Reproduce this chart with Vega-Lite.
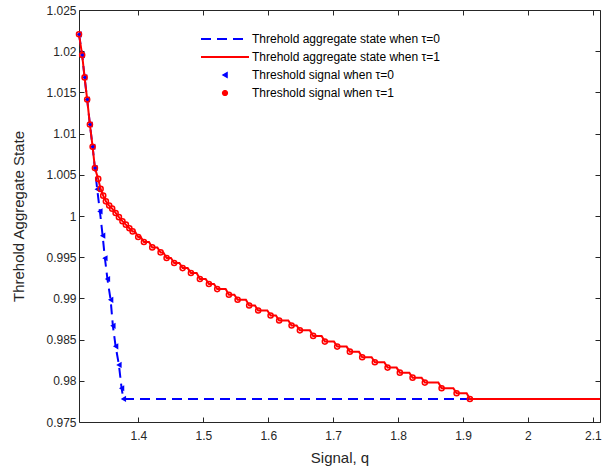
{
  "$schema": "https://vega.github.io/schema/vega-lite/v6.json",
  "autosize": "none",
  "padding": {"left": 79, "top": 10, "right": 3, "bottom": 51},
  "width": 521,
  "height": 412,
  "background": "white",
  "config": {
    "view": {"stroke": null},
    "font": "Liberation Sans",
    "axis": {
      "grid": false,
      "domainColor": "#262626",
      "domainWidth": 1,
      "tickColor": "#262626",
      "tickSize": -5,
      "labelColor": "#262626",
      "labelFont": "Liberation Sans",
      "labelFontSize": 12,
      "titleColor": "#262626",
      "titleFont": "Liberation Sans",
      "titleFontSize": 15,
      "titleFontWeight": "normal"
    }
  },
  "datasets": {
    "blueLine": [
      {"q": 1.3085, "v": 1.02205}, {"q": 1.3134, "v": 1.01953}, {"q": 1.3171, "v": 1.01682},
      {"q": 1.3211, "v": 1.01414}, {"q": 1.3253, "v": 1.01110}, {"q": 1.3295, "v": 1.00839},
      {"q": 1.3330, "v": 1.00582}, {"q": 1.3365, "v": 1.00326}, {"q": 1.3407, "v": 1.00056},
      {"q": 1.3449, "v": 0.99761}, {"q": 1.3484, "v": 0.99487}, {"q": 1.3523, "v": 0.99235},
      {"q": 1.3572, "v": 0.98983}, {"q": 1.3607, "v": 0.98667}, {"q": 1.3649, "v": 0.98418},
      {"q": 1.3700, "v": 0.98193}, {"q": 1.3741, "v": 0.97910}, {"q": 1.3769, "v": 0.97780},
      {"q": 2.111, "v": 0.97780}
    ],
    "blueMarks": [
      {"q": 1.3085, "v": 1.02205}, {"q": 1.3134, "v": 1.01953}, {"q": 1.3171, "v": 1.01682},
      {"q": 1.3211, "v": 1.01414}, {"q": 1.3253, "v": 1.01110}, {"q": 1.3295, "v": 1.00839},
      {"q": 1.3330, "v": 1.00582}, {"q": 1.3365, "v": 1.00326}, {"q": 1.3407, "v": 1.00056},
      {"q": 1.3449, "v": 0.99761}, {"q": 1.3484, "v": 0.99487}, {"q": 1.3523, "v": 0.99235},
      {"q": 1.3572, "v": 0.98983}, {"q": 1.3607, "v": 0.98667}, {"q": 1.3649, "v": 0.98418},
      {"q": 1.3700, "v": 0.98193}, {"q": 1.3741, "v": 0.97910}, {"q": 1.3769, "v": 0.97780}
    ],
    "redLine": [
      {"q": 1.3085, "v": 1.02205}, {"q": 1.3134, "v": 1.01953}, {"q": 1.3171, "v": 1.01682},
      {"q": 1.3211, "v": 1.01414}, {"q": 1.3253, "v": 1.01110}, {"q": 1.3295, "v": 1.00839},
      {"q": 1.3330, "v": 1.00582}, {"q": 1.3381, "v": 1.00450}, {"q": 1.3418, "v": 1.00329},
      {"q": 1.3458, "v": 1.00247}, {"q": 1.3499, "v": 1.00178}, {"q": 1.3550, "v": 1.00126},
      {"q": 1.3596, "v": 1.00089}, {"q": 1.3649, "v": 1.00037}, {"q": 1.3700, "v": 0.99986},
      {"q": 1.3754, "v": 0.99937}, {"q": 1.3807, "v": 0.99895}, {"q": 1.3861, "v": 0.99852},
      {"q": 1.3911, "v": 0.99813}, {"q": 1.3947, "v": 0.99813},
      {"q": 1.3997, "v": 0.99745}, {"q": 1.4035, "v": 0.99745},
      {"q": 1.4085, "v": 0.99684}, {"q": 1.4163, "v": 0.99684},
      {"q": 1.4213, "v": 0.99619}, {"q": 1.4292, "v": 0.99619},
      {"q": 1.4342, "v": 0.99558}, {"q": 1.4384, "v": 0.99558},
      {"q": 1.4434, "v": 0.99490}, {"q": 1.4501, "v": 0.99490},
      {"q": 1.4551, "v": 0.99429}, {"q": 1.4631, "v": 0.99429},
      {"q": 1.4681, "v": 0.99368}, {"q": 1.4759, "v": 0.99368},
      {"q": 1.4809, "v": 0.99308}, {"q": 1.4897, "v": 0.99308},
      {"q": 1.4947, "v": 0.99235}, {"q": 1.5036, "v": 0.99235},
      {"q": 1.5086, "v": 0.99174}, {"q": 1.5164, "v": 0.99174},
      {"q": 1.5214, "v": 0.99113}, {"q": 1.5344, "v": 0.99113},
      {"q": 1.5394, "v": 0.99044}, {"q": 1.5478, "v": 0.99044},
      {"q": 1.5528, "v": 0.98983}, {"q": 1.5656, "v": 0.98983},
      {"q": 1.5706, "v": 0.98914}, {"q": 1.5795, "v": 0.98914},
      {"q": 1.5845, "v": 0.98853}, {"q": 1.5986, "v": 0.98853},
      {"q": 1.6036, "v": 0.98792}, {"q": 1.6118, "v": 0.98792},
      {"q": 1.6168, "v": 0.98731}, {"q": 1.6309, "v": 0.98731},
      {"q": 1.6359, "v": 0.98671}, {"q": 1.6437, "v": 0.98671},
      {"q": 1.6487, "v": 0.98612}, {"q": 1.6642, "v": 0.98612},
      {"q": 1.6692, "v": 0.98545}, {"q": 1.6822, "v": 0.98545},
      {"q": 1.6872, "v": 0.98476}, {"q": 1.7012, "v": 0.98476},
      {"q": 1.7062, "v": 0.98415}, {"q": 1.7207, "v": 0.98415},
      {"q": 1.7257, "v": 0.98354}, {"q": 1.7397, "v": 0.98354},
      {"q": 1.7447, "v": 0.98286}, {"q": 1.7592, "v": 0.98286},
      {"q": 1.7642, "v": 0.98226}, {"q": 1.7788, "v": 0.98226},
      {"q": 1.7838, "v": 0.98160}, {"q": 1.7977, "v": 0.98160},
      {"q": 1.8027, "v": 0.98099}, {"q": 1.8173, "v": 0.98099},
      {"q": 1.8223, "v": 0.98038}, {"q": 1.8362, "v": 0.98038},
      {"q": 1.8412, "v": 0.97978}, {"q": 1.8620, "v": 0.97978},
      {"q": 1.8670, "v": 0.97910}, {"q": 1.8851, "v": 0.97910},
      {"q": 1.8901, "v": 0.97849}, {"q": 1.9056, "v": 0.97849},
      {"q": 1.9106, "v": 0.97780}, {"q": 2.111, "v": 0.97780}
    ],
    "redMarks": [
      {"q": 1.3085, "v": 1.02205}, {"q": 1.3134, "v": 1.01953}, {"q": 1.3171, "v": 1.01682},
      {"q": 1.3211, "v": 1.01414}, {"q": 1.3253, "v": 1.01110}, {"q": 1.3295, "v": 1.00839},
      {"q": 1.3330, "v": 1.00582}, {"q": 1.3381, "v": 1.00450}, {"q": 1.3418, "v": 1.00329},
      {"q": 1.3458, "v": 1.00247}, {"q": 1.3499, "v": 1.00178}, {"q": 1.3550, "v": 1.00126},
      {"q": 1.3596, "v": 1.00089}, {"q": 1.3649, "v": 1.00037}, {"q": 1.3700, "v": 0.99986},
      {"q": 1.3754, "v": 0.99937}, {"q": 1.3807, "v": 0.99895}, {"q": 1.3861, "v": 0.99852},
      {"q": 1.3911, "v": 0.99813}, {"q": 1.3997, "v": 0.99745}, {"q": 1.4085, "v": 0.99684},
      {"q": 1.4213, "v": 0.99619}, {"q": 1.4342, "v": 0.99558}, {"q": 1.4434, "v": 0.99490},
      {"q": 1.4551, "v": 0.99429}, {"q": 1.4681, "v": 0.99368}, {"q": 1.4809, "v": 0.99308},
      {"q": 1.4947, "v": 0.99235}, {"q": 1.5086, "v": 0.99174}, {"q": 1.5214, "v": 0.99113},
      {"q": 1.5394, "v": 0.99044}, {"q": 1.5528, "v": 0.98983}, {"q": 1.5706, "v": 0.98914},
      {"q": 1.5845, "v": 0.98853}, {"q": 1.6036, "v": 0.98792}, {"q": 1.6168, "v": 0.98731},
      {"q": 1.6359, "v": 0.98671}, {"q": 1.6487, "v": 0.98612}, {"q": 1.6692, "v": 0.98545},
      {"q": 1.6872, "v": 0.98476}, {"q": 1.7062, "v": 0.98415}, {"q": 1.7257, "v": 0.98354},
      {"q": 1.7447, "v": 0.98286}, {"q": 1.7642, "v": 0.98226}, {"q": 1.7838, "v": 0.98160},
      {"q": 1.8027, "v": 0.98099}, {"q": 1.8223, "v": 0.98038}, {"q": 1.8412, "v": 0.97978},
      {"q": 1.8670, "v": 0.97910}, {"q": 1.8901, "v": 0.97849}, {"q": 1.9106, "v": 0.97780}
    ]
  },
  "resolve": {"axis": {"x": "independent", "y": "independent"}},
  "layer": [
    {
      "data": {"name": "blueLine"},
      "mark": {"type": "line", "strokeWidth": 2, "strokeDash": [10, 6]},
      "encoding": {
        "x": {"field": "q", "type": "quantitative", "scale": {"domain": [1.3085, 2.111], "nice": false, "zero": false},
              "axis": {"orient": "bottom", "title": "Signal, q", "values": [1.4, 1.5, 1.6, 1.7, 1.8, 1.9, 2.0, 2.1], "format": ".1~f", "labelPadding": 13, "titlePadding": 9}},
        "y": {"field": "v", "type": "quantitative", "scale": {"domain": [0.975, 1.025], "nice": false, "zero": false},
              "axis": {"orient": "left", "title": "Threhold Aggregate State", "values": [0.975, 0.98, 0.985, 0.99, 0.995, 1.0, 1.005, 1.01, 1.015, 1.02, 1.025], "format": ".3~f", "labelPadding": 8, "titlePadding": 19}},
        "color": {
          "datum": "Threhold aggregate state when τ=0",
          "type": "nominal",
          "scale": {
            "domain": ["Threhold aggregate state when τ=0", "Threhold aggregate state when τ=1", "Threshold signal when τ=0", "Threshold signal when τ=1"],
            "range": ["#0000ff", "#ff0000", "#0000ff", "#ff0000"]
          },
          "legend": {
            "title": null,
            "orient": "none",
            "legendX": 140,
            "legendY": 23,
            "symbolSize": 25,
            "symbolStrokeWidth": 2,
            "labelFont": "Liberation Sans",
            "labelFontSize": 12,
            "labelColor": "#000000",
            "labelOffset": 21,
            "rowPadding": 6,
            "labelLimit": 400,
            "encode": {
              "symbols": {
                "update": {
                  "shape": {"signal": "datum.index < 2 ? 'M-9.6,0H9.6' : (datum.index == 2 ? 'triangle-left' : 'circle')"},
                  "stroke": {"signal": "datum.index % 2 == 0 ? '#0000ff' : '#ff0000'"},
                  "fill": {"signal": "datum.index == 2 ? '#0000ff' : 'transparent'"},
                  "strokeDash": {"signal": "datum.index == 0 ? [10, 6] : [1, 0]"},
                  "strokeWidth": {"signal": "(datum.index < 2 ? 2 : 1.2)"},
                  "opacity": {"value": 1}
                }
              }
            }
          }
        }
      }
    },
    {
      "data": {"name": "redLine"},
      "mark": {"type": "line", "strokeWidth": 2},
      "encoding": {
        "x": {"field": "q", "type": "quantitative", "axis": {"orient": "top", "labels": false, "title": null, "values": [1.4, 1.5, 1.6, 1.7, 1.8, 1.9, 2.0, 2.1]}},
        "y": {"field": "v", "type": "quantitative", "axis": {"orient": "right", "labels": false, "title": null, "values": [0.975, 0.98, 0.985, 0.99, 0.995, 1.0, 1.005, 1.01, 1.015, 1.02, 1.025]}},
        "color": {"datum": "Threhold aggregate state when τ=1", "type": "nominal"}
      }
    },
    {
      "data": {"name": "blueMarks"},
      "mark": {"type": "point", "shape": "triangle-left", "filled": true, "size": 38, "opacity": 1},
      "encoding": {
        "x": {"field": "q", "type": "quantitative", "axis": null},
        "y": {"field": "v", "type": "quantitative", "axis": null},
        "color": {"datum": "Threshold signal when τ=0", "type": "nominal"}
      }
    },
    {
      "data": {"name": "redMarks"},
      "mark": {"type": "point", "shape": "circle", "filled": false, "size": 26, "strokeWidth": 1.5, "opacity": 1},
      "encoding": {
        "x": {"field": "q", "type": "quantitative", "axis": null},
        "y": {"field": "v", "type": "quantitative", "axis": null},
        "color": {"datum": "Threshold signal when τ=1", "type": "nominal"}
      }
    }
  ]
}
